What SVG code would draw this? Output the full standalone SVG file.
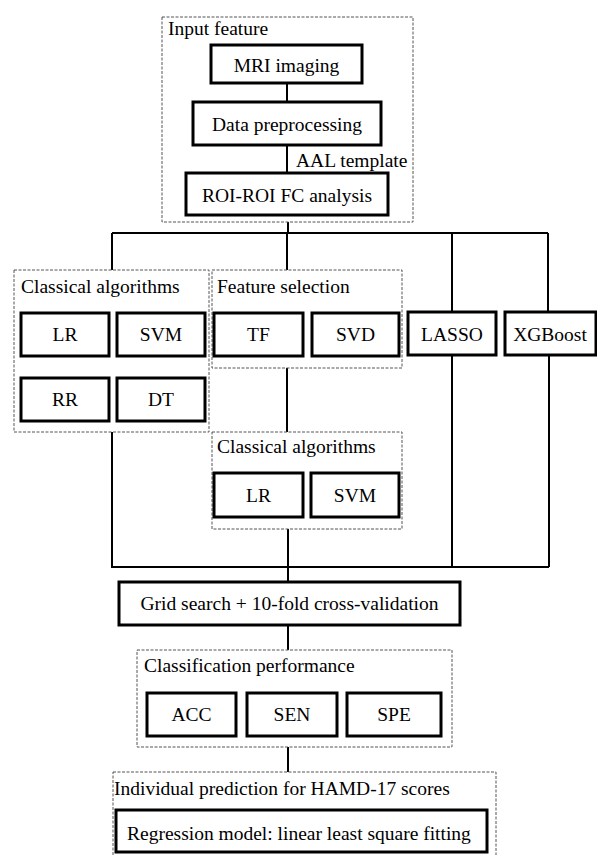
<svg xmlns="http://www.w3.org/2000/svg" width="597" height="855" viewBox="0 0 597 855">
<style>
.g{fill:none;stroke:#555;stroke-width:1;stroke-dasharray:3 1.5}
.b{fill:#fff;stroke:#000;stroke-width:3}
.c{fill:none;stroke:#000;stroke-width:2}
text{font-family:"Times New Roman",Tinos,"Liberation Serif","DejaVu Serif",serif;font-size:19.5px;fill:#000}
.m{text-anchor:middle}
</style>
<rect width="597" height="855" fill="#fff"/>
<g id="connectors">
<path class="c" d="M287,83V102M287,145V173M288,222V233M112,233H548M112,233V270M287,233V270M452,233V312M548,233V312M287,368V432M112,432V567H549M288,529V582M452,355V567M549,355V567M288,625V650M288,747V772"/>
</g>
<g id="input-feature">
<rect class="g" x="162" y="17" width="251" height="205"/>
<text x="168" y="35">Input feature</text>
</g>
<g id="mri"><rect class="b" x="211" y="45" width="151" height="38"/><text class="m" x="286.5" y="72">MRI imaging</text></g>
<g id="preproc"><rect class="b" x="193" y="102" width="188" height="43"/><text class="m" x="287" y="131">Data preprocessing</text></g>
<g id="aal"><text x="296" y="167">AAL template</text></g>
<g id="roi"><rect class="b" x="186" y="173" width="202" height="42"/><text class="m" x="287" y="202">ROI-ROI FC analysis</text></g>
<g id="classical1">
<rect class="g" x="14" y="270" width="195" height="162"/>
<text x="21" y="293">Classical algorithms</text>
</g>
<g id="lr1"><rect class="b" x="21" y="313" width="88" height="43"/><text class="m" x="65" y="341">LR</text></g>
<g id="svm1"><rect class="b" x="117" y="313" width="88" height="43"/><text class="m" x="161" y="341">SVM</text></g>
<g id="rr"><rect class="b" x="21" y="378" width="88" height="43"/><text class="m" x="65" y="406">RR</text></g>
<g id="dt"><rect class="b" x="117" y="378" width="88" height="43"/><text class="m" x="161" y="406">DT</text></g>
<g id="feature-selection">
<rect class="g" x="212" y="270" width="190" height="98"/>
<text x="217" y="293">Feature selection</text>
</g>
<g id="tf"><rect class="b" x="214" y="313" width="89" height="43"/><text class="m" x="258.5" y="341">TF</text></g>
<g id="svd"><rect class="b" x="312" y="313" width="87" height="43"/><text class="m" x="355.5" y="341">SVD</text></g>
<g id="lasso"><rect class="b" x="408" y="312" width="88" height="43"/><text class="m" x="452" y="341">LASSO</text></g>
<g id="xgboost"><rect class="b" x="505" y="312" width="91" height="43"/><text class="m" x="550" y="341">XGBoost</text></g>
<g id="classical2">
<rect class="g" x="212" y="432" width="190" height="97"/>
<text x="217" y="453">Classical algorithms</text>
</g>
<g id="lr2"><rect class="b" x="214" y="473" width="89" height="44"/><text class="m" x="258.5" y="502">LR</text></g>
<g id="svm2"><rect class="b" x="311" y="473" width="88" height="44"/><text class="m" x="355" y="502">SVM</text></g>
<g id="grid"><rect class="b" x="119" y="582" width="341" height="43"/><text class="m" x="289.5" y="610">Grid search + 10-fold cross-validation</text></g>
<g id="classification">
<rect class="g" x="137" y="650" width="315" height="97"/>
<text x="144" y="672">Classification performance</text>
</g>
<g id="acc"><rect class="b" x="147" y="693" width="89" height="43"/><text class="m" x="191.5" y="721">ACC</text></g>
<g id="sen"><rect class="b" x="247" y="693" width="90" height="43"/><text class="m" x="292" y="721">SEN</text></g>
<g id="spe"><rect class="b" x="347" y="693" width="94" height="43"/><text class="m" x="394" y="721">SPE</text></g>
<g id="individual">
<rect class="g" x="113" y="772" width="383" height="95"/>
<text x="114" y="795">Individual prediction for HAMD-17 scores</text>
</g>
<g id="regression"><rect class="b" x="116" y="810" width="371" height="42"/><text x="127" y="840">Regression model: linear least square fitting</text></g>
</svg>
